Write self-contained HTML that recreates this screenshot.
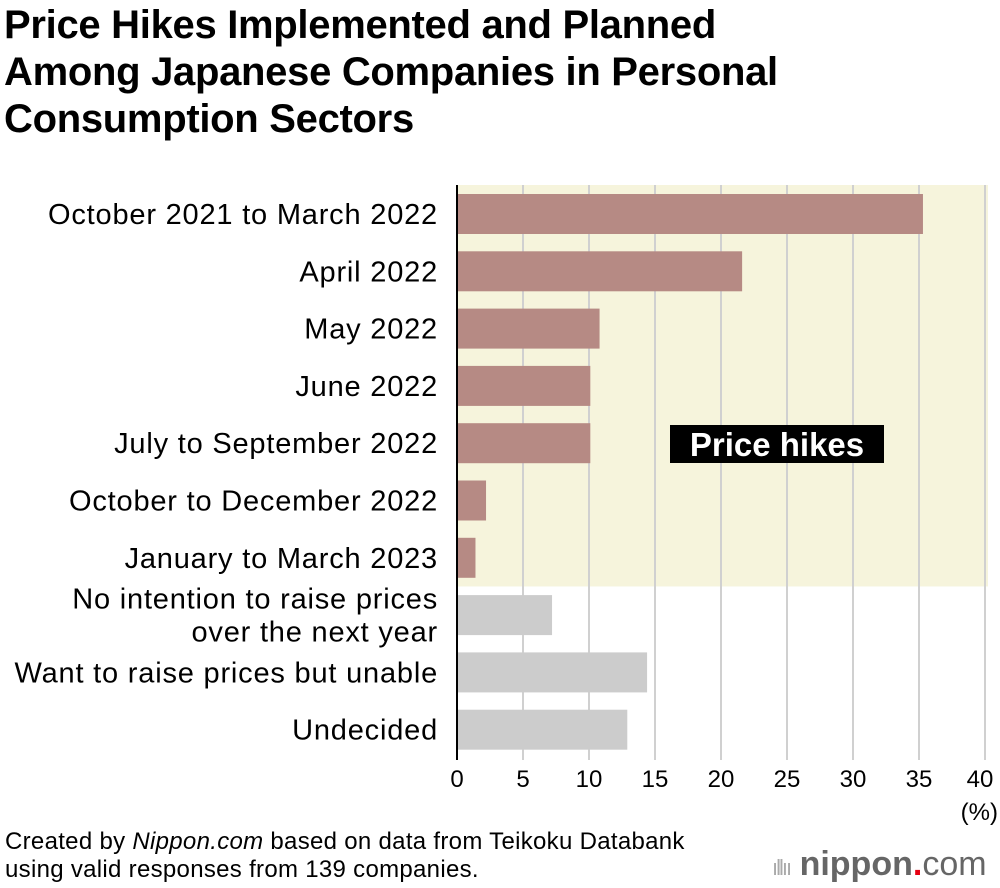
<!DOCTYPE html>
<html><head><meta charset="utf-8"><style>
body{margin:0;width:1000px;height:888px;background:#fff;font-family:"Liberation Sans",sans-serif;overflow:hidden}
#title{position:absolute;left:4px;top:2px;font-size:40px;font-weight:bold;line-height:47px;color:#000;margin:0;letter-spacing:-0.3px}
#foot{position:absolute;left:5px;top:828px;font-size:24px;line-height:28px;color:#000;letter-spacing:0.3px;white-space:nowrap}
#logo{position:absolute;left:772px;top:845px;font-size:34px;font-weight:bold;color:#666;white-space:nowrap;line-height:38px}
</style></head><body>
<h1 id="title">Price Hikes Implemented and Planned<br>Among Japanese Companies in Personal<br>Consumption Sectors</h1>
<svg id="chart" width="1000" height="888" style="position:absolute;left:0;top:0"></svg>
<div id="foot">Created by <i>Nippon.com</i> based on data from Teikoku Databank<br>using valid responses from 139 companies.</div>
<div id="logo"><span style="font-weight:normal;font-size:22px;letter-spacing:-2px;color:#aaa">ıllıı</span> nippon<span style="color:#e60012">.</span><span style="font-weight:normal">com</span></div>
<script>
const categories=["October 2021 to March 2022","April 2022","May 2022","June 2022","July to September 2022","October to December 2022","January to March 2023","No intention to raise prices|over the next year","Want to raise prices but unable","Undecided"];
const values=[35.3,21.6,10.8,10.1,10.1,2.2,1.4,7.2,14.4,12.9];
const isHike=[1,1,1,1,1,1,1,0,0,0];
const ticks=[0,5,10,15,20,25,30,35,40];
const NS="http://www.w3.org/2000/svg";
const svg=document.getElementById('chart');
const x0=457,pxPer=13.2,yTop=185,rowH=57.3,firstC=214,barH=40;
const xs=v=>x0+v*pxPer;
const yc=i=>firstC+i*rowH;
function mk(t,a){const e=document.createElementNS(NS,t);for(const k in a)e.setAttribute(k,a[k]);svg.appendChild(e);return e;}
const nh=isHike.filter(h=>h).length;
const bg=mk('rect',{x:x0,y:yTop,width:xs(40)-x0+3,height:yc(nh-1)+rowH/2-yTop,fill:'#f6f4dc'});


ticks.forEach(t=>{
 if(t>0){const g=mk('line',{x1:xs(t),x2:xs(t),y1:yTop,y2:760,stroke:'#d0d0d0','stroke-width':2});
 
 }
 const tl=mk('text',{x:t==40?xs(t)-5:xs(t),y:787,'text-anchor':'middle','font-size':24,fill:'#000'});
 tl.textContent=t;
 
 
});
const pct=mk('text',{x:998,y:820,'text-anchor':'end','font-size':24});pct.textContent='(%)';


values.forEach((v,i)=>{
 const r=mk('rect',{x:x0,y:yc(i)-barH/2,width:xs(v)-x0,height:barH,fill:isHike[i]?'#b68a84':'#cccccc'});
 
 
 const lines=categories[i].split('|');
 lines.forEach((s,j)=>{
  const t=mk('text',{x:438,y:yc(i)+10+(j-(lines.length-1)/2)*33,'text-anchor':'end','font-size':29,'letter-spacing':0.8,fill:'#000'});
  t.textContent=s;
  
  
 });
});
mk('line',{x1:x0,x2:x0,y1:yTop,y2:760,stroke:'#000','stroke-width':2});
const lb=mk('rect',{x:670,y:425,width:214,height:38,fill:'#000'});


const lt=mk('text',{x:777,y:456,'text-anchor':'middle','font-size':33,'font-weight':'bold',fill:'#fff'});
lt.textContent='Price hikes';


</script>
</body></html>
